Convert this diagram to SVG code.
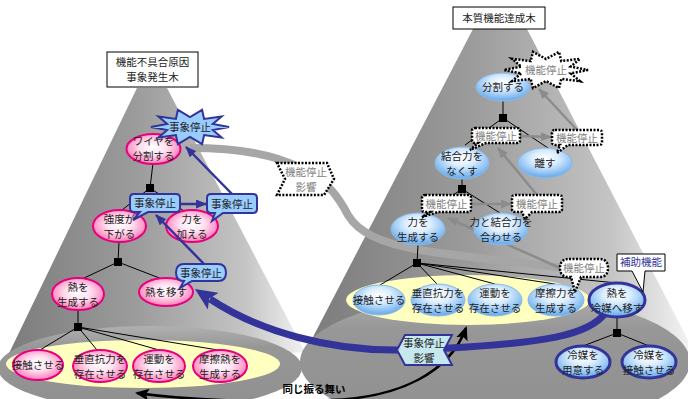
<svg xmlns="http://www.w3.org/2000/svg" width="688" height="399" viewBox="0 0 688 399">
<style>
text{font-family:"Noto Sans CJK JP","Noto Sans",sans-serif;font-size:10.5px;text-anchor:middle;fill:#222}
.pink{fill:url(#pinkG);stroke:#e6007e;stroke-width:2}
.blue{fill:url(#blueG);stroke:#8fb8e0;stroke-width:1}
.blueT{fill:url(#blueG);stroke:#333399;stroke-width:3}
.ln{stroke:#000;stroke-width:1;fill:none}
.sq{fill:#000}
.cb{fill:#99ccff;stroke:#333399;stroke-width:2}
.cd{fill:#fff;stroke:#000;stroke-width:2.5;stroke-dasharray:2 1.5}
.gt{fill:#808080}
.ba{stroke:#333399;stroke-width:2.5;fill:none;marker-end:url(#bh)}
.ga{stroke:#8c8c8c;stroke-width:2.5;fill:none;marker-end:url(#gh)}
</style>
<defs>
<linearGradient id="coneG" x1="0" y1="0" x2="1" y2="0">
<stop offset="0" stop-color="#7a7a7a"/><stop offset="0.45" stop-color="#9c9c9c"/><stop offset="0.8" stop-color="#c4c4c4"/><stop offset="1" stop-color="#f2f2f2"/>
</linearGradient>
<linearGradient id="baseG" x1="0" y1="0" x2="0" y2="1">
<stop offset="0" stop-color="#b0b0b0"/><stop offset="0.25" stop-color="#979797"/><stop offset="1" stop-color="#8f8f8f"/>
</linearGradient>
<radialGradient id="pinkG" cx="0.5" cy="0.45" r="0.55">
<stop offset="0" stop-color="#ffffff"/><stop offset="0.45" stop-color="#ffe0f0"/><stop offset="1" stop-color="#ff7ab8"/>
</radialGradient>
<radialGradient id="blueG" cx="0.5" cy="0.35" r="0.6">
<stop offset="0" stop-color="#ffffff"/><stop offset="0.4" stop-color="#dceeff"/><stop offset="1" stop-color="#70b0ee"/>
</radialGradient>
<marker id="bh" markerUnits="userSpaceOnUse" markerWidth="11" markerHeight="9" refX="10" refY="4.5" orient="auto"><path d="M0,0 L11,4.5 L0,9 Z" fill="#333399"/></marker>
<marker id="gh" markerUnits="userSpaceOnUse" markerWidth="11" markerHeight="9" refX="10" refY="4.5" orient="auto"><path d="M0,0 L11,4.5 L0,9 Z" fill="#8c8c8c"/></marker>
<marker id="bigh" markerUnits="userSpaceOnUse" markerWidth="22" markerHeight="20" refX="4" refY="10" orient="auto"><path d="M0,0 L22,10 L0,20 L5,10 Z" fill="#333399"/></marker>
<marker id="kh" markerUnits="userSpaceOnUse" markerWidth="14" markerHeight="12" refX="12" refY="6" orient="auto-start-reverse"><path d="M0,0 L14,6 L0,12 L3,6 Z" fill="#000"/></marker>
</defs>

<g id="cones">
<path d="M137,88 L167,88 L305,352 L0,372 Z" fill="url(#coneG)"/>
<ellipse cx="150" cy="368" rx="152" ry="42" fill="url(#baseG)"/>
<path d="M473,29 L527,29 L688,340 L688,360 L300,362 Z" fill="url(#coneG)"/>
<ellipse cx="495" cy="362" rx="195" ry="68" fill="url(#baseG)"/>
<ellipse cx="143" cy="364" rx="137" ry="24" fill="#ffffc0"/>
<ellipse cx="468" cy="300" rx="122" ry="25" fill="#ffffc0"/>
</g>

<g id="titles">
<g id="title-left"><rect x="107" y="52" width="91" height="35" fill="#fff" stroke="#000"/><text x="152.5" y="66">機能不具合原因</text><text x="152.5" y="81">事象発生木</text></g>
<g id="title-right"><rect x="453" y="7" width="92" height="22" fill="#fff" stroke="#000"/><text x="499" y="22">本質機能達成木</text></g>
</g>

<g id="connectors">
<path d="M190,148 C230,148 270,152 300,168 C330,182 340,200 348,215 C358,232 380,243 420,250 C470,258 520,262 562,268" fill="none" stroke="#a6a6a6" stroke-width="8"/>
<path d="M137,393 C200,402 280,402 330,400 C400,398 450,372 466,328" fill="none" stroke="#000" stroke-width="2.5" marker-start="url(#kh)" marker-end="url(#kh)"/>
<path d="M606,312 C590,336 540,343 450,348 L400,350 C330,351 260,332 210,299" fill="none" stroke="#333399" stroke-width="7" marker-end="url(#bigh)"/>
<g class="ln">
<line x1="153" y1="163" x2="150" y2="188"/><line x1="150" y1="188" x2="122" y2="210"/><line x1="150" y1="188" x2="184" y2="211"/>
<line x1="119" y1="242" x2="118" y2="262"/><line x1="118" y1="262" x2="80" y2="280"/><line x1="118" y1="262" x2="162" y2="279"/>
<line x1="78" y1="309" x2="78" y2="327"/><line x1="78" y1="327" x2="40" y2="350"/><line x1="78" y1="327" x2="97" y2="350"/><line x1="78" y1="327" x2="159" y2="350"/><line x1="78" y1="327" x2="218" y2="350"/>
<line x1="503" y1="101" x2="503" y2="118"/><line x1="503" y1="118" x2="465" y2="145"/><line x1="503" y1="118" x2="548" y2="148"/>
<line x1="462" y1="178" x2="462" y2="189"/><line x1="462" y1="189" x2="428" y2="212"/><line x1="462" y1="189" x2="500" y2="213"/>
<line x1="418" y1="245" x2="417" y2="263"/><line x1="417" y1="263" x2="380" y2="285"/><line x1="417" y1="263" x2="437" y2="284"/><line x1="417" y1="263" x2="495" y2="284"/><line x1="417" y1="263" x2="555" y2="284"/><line x1="417" y1="263" x2="617" y2="283"/>
<line x1="617" y1="317" x2="617" y2="333"/><line x1="617" y1="333" x2="583" y2="346"/><line x1="617" y1="333" x2="649" y2="346"/>
</g>
<g class="sq">
<rect x="146" y="184" width="8" height="8"/><rect x="114" y="258" width="8" height="8"/><rect x="74" y="323" width="8" height="8"/>
<rect x="499" y="114" width="8" height="8"/><rect x="458" y="185" width="8" height="8"/><rect x="413" y="259" width="8" height="8"/><rect x="613" y="329" width="8" height="8"/>
</g>
<line class="ga" x1="577" y1="130" x2="539" y2="89"/>
<line class="ga" x1="520" y1="136" x2="551" y2="137"/>
<line class="ga" x1="537" y1="195" x2="498" y2="148"/>
<line class="ga" x1="471" y1="204" x2="511" y2="204"/>
<line class="ga" x1="560" y1="268" x2="448" y2="218"/>
</g>

<g id="n-wire"><ellipse class="pink" cx="153.5" cy="149" rx="27" ry="15"/><text x="153.5" y="145">ワイヤを</text><text x="153.5" y="160">分割する</text></g>
<g id="n-kyodo"><ellipse class="pink" cx="119.5" cy="226" rx="26.5" ry="16"/><text x="119.5" y="222.5">強度が</text><text x="119.5" y="237.5">下がる</text></g>
<g id="n-chikara"><ellipse class="pink" cx="192" cy="226" rx="26" ry="16"/><text x="192" y="222.5">力を</text><text x="192" y="237.5">加える</text></g>
<g id="n-netsu-sei"><ellipse class="pink" cx="78" cy="294" rx="26" ry="16"/><text x="78" y="290.5">熱を</text><text x="78" y="305.5">生成する</text></g>
<g id="n-netsu-utsu"><ellipse class="pink" cx="166" cy="292" rx="27" ry="14"/><text x="166" y="296">熱を移す</text></g>
<g id="n-l-sesshoku"><ellipse class="pink" cx="38" cy="365" rx="25" ry="15"/><text x="38" y="369">接触させる</text></g>
<g id="n-l-suichoku"><ellipse class="pink" cx="100" cy="366" rx="27" ry="16"/><text x="100" y="362.5">垂直抗力を</text><text x="100" y="377.5">存在させる</text></g>
<g id="n-l-undo"><ellipse class="pink" cx="159" cy="366" rx="26" ry="16"/><text x="159" y="362.5">運動を</text><text x="159" y="377.5">存在させる</text></g>
<g id="n-l-masatsu"><ellipse class="pink" cx="220" cy="366" rx="27" ry="16"/><text x="220" y="362.5">摩擦熱を</text><text x="220" y="377.5">生成する</text></g>

<g id="n-bunkatsu"><ellipse class="blue" cx="503" cy="87" rx="27" ry="14"/><text x="503" y="91">分割する</text></g>
<g id="n-ketsugo"><ellipse class="blue" cx="462" cy="163" rx="27" ry="16"/><text x="462" y="159.5">結合力を</text><text x="462" y="174.5">なくす</text></g>
<g id="n-hanasu"><ellipse class="blue" cx="545" cy="163" rx="27" ry="15"/><text x="545" y="167">離す</text></g>
<g id="n-chikara-sei"><ellipse class="blue" cx="418" cy="229" rx="27" ry="16"/><text x="418" y="225.5">力を</text><text x="418" y="240.5">生成する</text></g>
<g id="n-awaseru"><ellipse class="blue" cx="501" cy="229" rx="27" ry="16"/><text x="501" y="225.5">力と結合力を</text><text x="501" y="240.5">合わせる</text></g>
<g id="n-r-sesshoku"><ellipse class="blue" cx="379" cy="300" rx="26" ry="15"/><text x="379" y="304">接触させる</text></g>
<g id="n-r-suichoku"><ellipse class="blue" cx="438" cy="300" rx="27" ry="16"/><text x="438" y="296.5">垂直抗力を</text><text x="438" y="311.5">存在させる</text></g>
<g id="n-r-undo"><ellipse class="blue" cx="495" cy="300" rx="27" ry="16"/><text x="495" y="296.5">運動を</text><text x="495" y="311.5">存在させる</text></g>
<g id="n-r-masatsu"><ellipse class="blue" cx="556" cy="300" rx="28" ry="16"/><text x="556" y="296.5">摩擦力を</text><text x="556" y="311.5">生成する</text></g>
<g id="n-reibai-utsu"><ellipse class="blueT" cx="617" cy="300" rx="28" ry="17"/><text x="617" y="296.5">熱を</text><text x="617" y="311.5">冷媒へ移す</text></g>
<g id="n-reibai-yoi"><ellipse class="blueT" cx="583" cy="362" rx="27" ry="16"/><text x="583" y="358.5">冷媒を</text><text x="583" y="373.5">用意する</text></g>
<g id="n-reibai-sesshoku"><ellipse class="blueT" cx="649" cy="362" rx="27" ry="16"/><text x="649" y="358.5">冷媒を</text><text x="649" y="373.5">接触させる</text></g>

<g id="callouts">
<line class="ba" x1="180" y1="204" x2="206" y2="204"/>
<line class="ba" x1="205" y1="265" x2="156" y2="215"/>
<line class="ba" x1="232" y1="194" x2="186" y2="147"/>
<g id="c-stop-burst"><polygon class="cb" points="229,127 212.8,130.1 221.6,137.6 204.1,135.1 202.1,144.1 190,137 177.9,144.1 175.9,135.1 158.4,137.6 167.2,130.1 151,127 167.2,123.9 158.4,116.4 175.9,118.9 177.9,109.9 190,117 202.1,109.9 204.1,118.9 221.6,116.4 212.8,123.9"/><text x="190" y="131">事象停止</text></g>
<g id="c-stop1"><path class="cb" d="M134,194 H176 Q180,194 180,198 V208 Q180,212 176,212 H148 L133,220 L140,212 H134 Q130,212 130,208 V198 Q130,194 134,194 Z"/><text x="155" y="207">事象停止</text></g>
<g id="c-stop2"><path class="cb" d="M211,194 H253 Q257,194 257,198 V209 Q257,213 253,213 H223 L212,221 L215,213 H211 Q207,213 207,209 V198 Q207,194 211,194 Z"/><text x="232" y="208">事象停止</text></g>
<g id="c-stop3"><path class="cb" d="M184,264 H218 Q226,264 226,272.5 Q226,281 218,281 H192 L180,288 L184,281 Q176,281 176,272.5 Q176,264 184,264 Z"/><text x="201" y="277">事象停止</text></g>
<g id="c-fs-top"><polygon class="cd" points="588,70 570.7,73.4 580,81.2 561.3,78.9 559,88.1 546,81 533,88.1 530.7,78.9 512,81.2 521.3,73.4 504,70 521.3,66.6 512,58.8 530.7,61.1 533,51.9 546,59 559,51.9 561.3,61.1 580,58.8 570.7,66.6"/><text class="gt" x="546" y="74">機能停止</text></g>
<g id="c-fs1"><path class="cd" d="M475,128 H517 Q520,128 520,131 V140 Q520,143 517,143 H486 L470,150 L478,143 H475 Q472,143 472,140 V131 Q472,128 475,128 Z"/><text class="gt" x="496" y="140">機能停止</text></g>
<g id="c-fs2"><path class="cd" d="M555,130 H599 Q602,130 602,133 V142 Q602,145 599,145 H568 L557,153 L560,145 H555 Q552,145 552,142 V133 Q552,130 555,130 Z"/><text class="gt" x="577" y="142">機能停止</text></g>
<g id="c-fs3"><path class="cd" d="M425,195 H468 Q471,195 471,198 V209 Q471,212 468,212 H438 L422,217 L430,212 H425 Q422,212 422,209 V198 Q422,195 425,195 Z"/><text class="gt" x="446.5" y="208">機能停止</text></g>
<g id="c-fs4"><path class="cd" d="M515,195 H559 Q562,195 562,198 V209 Q562,212 559,212 H532 L525,219 L522,212 H515 Q512,212 512,209 V198 Q512,195 515,195 Z"/><text class="gt" x="537" y="208">機能停止</text></g>
<g id="c-fs5"><path class="cd" d="M569,259 H599 Q608,259 608,268 Q608,277 599,277 H581 L575,292 L571,277 H569 Q560,277 560,268 Q560,259 569,259 Z"/><text class="gt" x="584" y="272">機能停止</text></g>
<g id="c-hojo"><path d="M617,254 H665 V271 H645 L643,292 L632,271 H617 Z" fill="#fff" stroke="#000" stroke-width="1"/><text x="641" y="266" style="fill:#333399">補助機能</text></g>
</g>

<g id="hex-gray"><polygon points="277,163 327,163 334,179 324,195 277,195 285,179" fill="#fff" stroke="#000" stroke-width="2.5" stroke-dasharray="2 1.5"/><text class="gt" x="306" y="175.5">機能停止</text><text class="gt" x="306" y="190.5">影響</text></g>
<g id="hex-blue"><polygon points="405,335 452,335 444,350 452,365 405,365 397,350" fill="#c5e8ee" stroke="#333399" stroke-width="2"/><text x="424" y="346.5">事象停止</text><text x="424" y="361.5">影響</text></g>
<text x="314" y="393" style="font-weight:bold;fill:#000">同じ振る舞い</text>
</svg>
